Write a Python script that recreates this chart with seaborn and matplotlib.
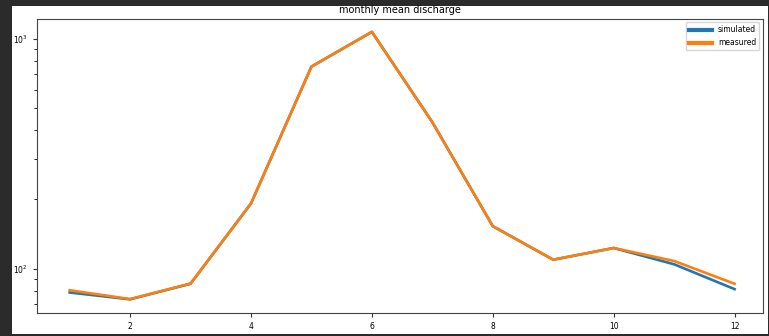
import pandas as pd
import numpy as np
import matplotlib.pyplot as plt
import seaborn as sns
from matplotlib.patches import Rectangle
from matplotlib.ticker import NullFormatter

# monthly mean discharge
months = [1, 2, 3, 4, 5, 6, 7, 8, 9, 10, 11, 12]
simulated = [78.8, 73.6, 86.0, 192, 755, 1069, 433, 153, 109.4, 123, 104.5, 81.5]
measured = [80.6, 73.8, 86.2, 192, 755, 1069, 433, 153, 109.4, 123, 108.0, 86.0]

df = pd.DataFrame({
    "month": months * 2,
    "discharge": simulated + measured,
    "series": ["simulated"] * len(months) + ["measured"] * len(months),
})

fig = plt.figure(figsize=(7.69, 3.36), dpi=100, facecolor="#2b2b2b")
# white figure area inside the dark screenshot frame
fig.patches.append(Rectangle((12 / 769, 2 / 336), 756 / 769, 328 / 336,
                             transform=fig.transFigure, facecolor="white",
                             edgecolor="none", zorder=-1))

ax = fig.add_axes([37 / 769, (336 - 312.7) / 336, (763 - 37) / 769, (312.7 - 18.5) / 336])
sns.lineplot(data=df, x="month", y="discharge", hue="series",
             palette=["#1f77b4", "#ff7f0e"], linewidth=1.9, ax=ax)

ax.set_yscale("log")
ax.yaxis.set_minor_formatter(NullFormatter())
ax.set_xticks([2, 4, 6, 8, 10, 12])
ax.set_xlim(0.46, 12.47)
ax.set_xlabel("")
ax.set_ylabel("")
ax.set_title("monthly mean discharge", fontsize=7, pad=4)
ax.tick_params(labelsize=5.5, length=3, color="#333333")
ax.tick_params(which="minor", length=2)
for s in ax.spines.values():
    s.set_color("#444444")

leg = ax.legend(title=None, fontsize=5.5, loc="upper right", handlelength=3)
for line in leg.get_lines():
    line.set_linewidth(3)

fig.savefig("out.png", dpi=100, facecolor=fig.get_facecolor())
